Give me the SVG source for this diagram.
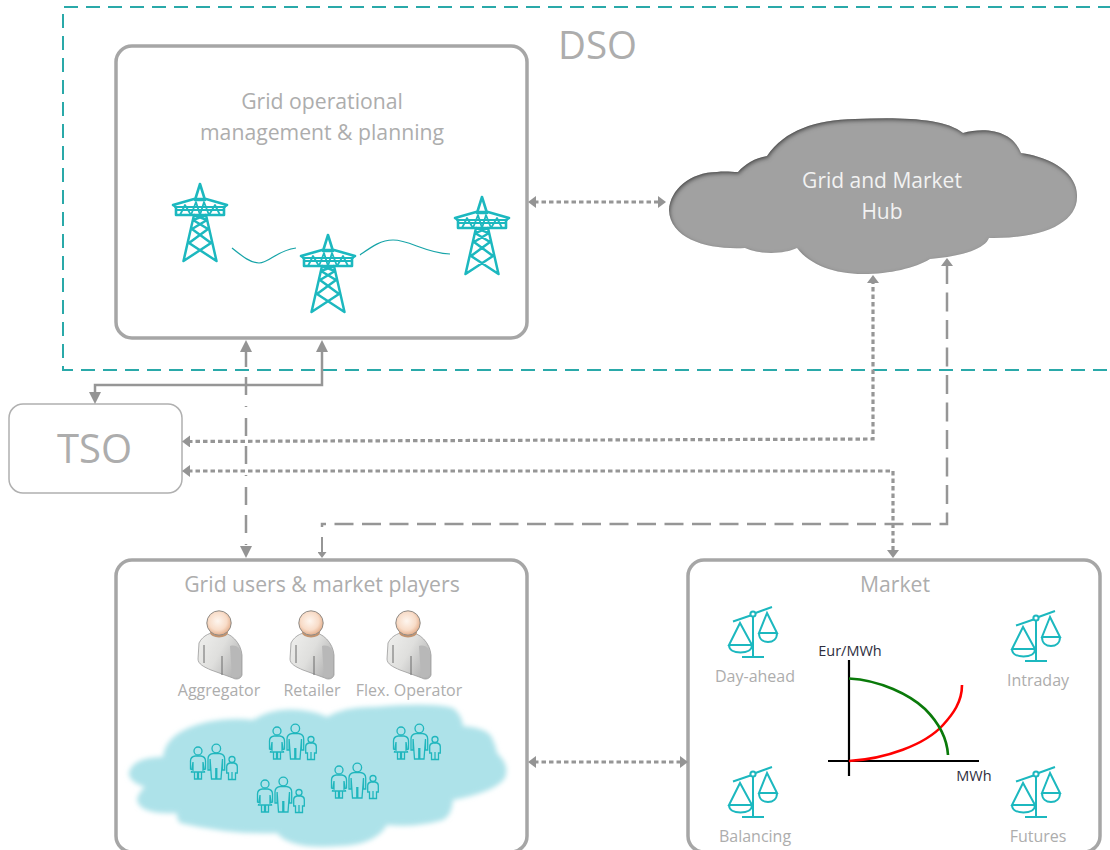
<svg xmlns="http://www.w3.org/2000/svg" xmlns:xlink="http://www.w3.org/1999/xlink" width="1110" height="850" viewBox="0 0 1110 850">
<style>
text{font-family:"Open Sans","Noto Sans","Liberation Sans",sans-serif;fill:#adadad;text-anchor:middle}
.box{fill:#fff;stroke:#a6a6a6;stroke-width:3.5}
.c{fill:none;stroke:#969696}
.dot{stroke-width:3.2;stroke-dasharray:4.5 3}
.lbl{font-size:16px}
.head{font-size:21.2px}
.twr{fill:none;stroke:#1cb8bf;stroke-linejoin:round;stroke-linecap:round}
.fam{fill:none;stroke:#1fb6bd;stroke-width:1.3}
.sc{fill:none;stroke:#1cb8bf;stroke-width:2}
.ax{fill:none;stroke:#000;stroke-width:2.2}
</style>
<defs>
<marker id="aL" viewBox="0 0 12 12" markerWidth="12" markerHeight="12" refX="6" refY="6" orient="auto-start-reverse" markerUnits="userSpaceOnUse"><path d="M0,0L12,6L0,12z" fill="#949494"/></marker>
<marker id="aS" viewBox="0 0 8 12" markerWidth="8" markerHeight="12" refX="2" refY="6" orient="auto-start-reverse" markerUnits="userSpaceOnUse"><path d="M0,0L8,6L0,12z" fill="#949494"/></marker>
<marker id="aT" viewBox="0 0 6 9" markerWidth="6" markerHeight="9" refX="1" refY="4.5" orient="auto-start-reverse" markerUnits="userSpaceOnUse"><path d="M0,0L6,4.5L0,9z" fill="#949494"/></marker>
<radialGradient id="face" cx="0.45" cy="0.42" r="0.62"><stop offset="0" stop-color="#fef6ef"/><stop offset="0.6" stop-color="#f8dcc8"/><stop offset="1" stop-color="#e0a680"/></radialGradient>
<linearGradient id="body" x1="0" y1="0" x2="1" y2="0.6"><stop offset="0" stop-color="#f0f0ee"/><stop offset="0.55" stop-color="#dfdfdd"/><stop offset="1" stop-color="#b4b4b4"/></linearGradient>
<filter id="inner" x="-5%" y="-5%" width="110%" height="110%">
<feGaussianBlur in="SourceAlpha" stdDeviation="2" result="b"/>
<feOffset in="b" dx="1" dy="2" result="o"/>
<feComposite in="SourceAlpha" in2="o" operator="out" result="edge"/>
<feFlood flood-color="#3a3a3a"/><feComposite in2="edge" operator="in" result="s"/>
<feMerge><feMergeNode in="SourceGraphic"/><feMergeNode in="s"/></feMerge>
</filter>
<filter id="soft" x="-5%" y="-10%" width="110%" height="120%"><feGaussianBlur stdDeviation="2.5"/></filter>
<filter id="sl" x="-20%" y="-10%" width="140%" height="120%"><feGaussianBlur stdDeviation="0.4"/></filter>
<symbol id="tower" overflow="visible">
<g class="twr" filter="url(#sl)">
<path d="M0,1L-5,17H5z" stroke-width="2.6"/>
<path d="M-27,22L-6,16H6L27,22L24,24V32H-24V24z" stroke-width="2.6"/>
<path d="M-25,24H25M-24,27H24M-20,32L-15,22L-9,32L-4,19L0,32L4,19L9,32L15,22L20,32" stroke-width="1.8"/>
<path d="M-6,32L-16.500,78L11,60L-8,46L7,37L-6,32M6,32L16.500,78L-11,60L8,46L-7,37L6,32" stroke-width="2.5"/>
</g>
</symbol>
<symbol id="person" overflow="visible">
<path d="M-20,20C-16,12 -8,9 0,9C12,9 22,20 23,32L23,52C22,56 17,57 14,55L-8,47C-15,44 -21,41 -21,36z" fill="url(#body)" stroke="#9a9a9a" stroke-width="0.8"/>
<path d="M11,23C18,21 22,26 22,32V50C22,54 17,55 13,54z" fill="#b8b8b8"/>
<path d="M-15,22V40M3,33V52" stroke="#6a6a6a" stroke-width="1" fill="none"/>
<ellipse cx="0" cy="9.500" rx="9" ry="5" fill="#c4946f"/>
<circle r="12.2" fill="url(#face)" stroke="#8f8c88" stroke-width="1"/>
</symbol>
<symbol id="family" overflow="visible">
<g class="fam">
<circle cx="0" cy="0" r="4"/>
<path d="M-3,5H3C6,5.500 7.500,7 7.500,10V18L5,19V11M-5,11V19L-7.500,18V10C-7.500,7 -6,5.500 -3,5M-5,11L-6.500,21H6.500L5,11M-3.500,21V28H-0.500V21M0.500,21V28H3.500V21"/>
<circle cx="18.300" cy="-2.500" r="4.300"/>
<path d="M15,2.500H21.500C25,3 26.700,5 26.700,8V19H24.500V8M12.100,8V19H10V8C10,5 11.500,3 15,2.500M12.100,8L13.500,28H17.800V17M18.800,17V28H23L24.500,8"/>
<circle cx="34" cy="8.500" r="3"/>
<path d="M32,12H36C38.500,12.500 39.300,14 39.300,15.500V22H37.500V28.500H30.500V22H28.700V15.500C28.700,14 29.500,12.500 32,12zM34,21V28.500"/>
</g>
</symbol>
<symbol id="scale" overflow="visible">
<g class="sc">
<path d="M-20,7.500L-2.500,1.500M2.500,-1L19,-7M0,2.500V43M-11,43H11"/>
<circle r="2.600"/>
<path d="M-13,9L-24,31H-1zM-24,31C-24,36 -19,38.500 -12.500,38.500C-6,38.500 -1,36 -1,31"/>
<path d="M14,-1L6,19H24zM6,19C6,25 10,28 15,28C20,28 24,25 24,19"/>
</g>
</symbol>
</defs>
<rect width="1110" height="850" fill="#fff"/>

<g id="dso">
<path d="M1112,7H63V370H1112" fill="none" stroke="#2aa9a9" stroke-width="2" stroke-dasharray="14 8"/>
<text x="597.500" y="59" font-size="38.500">DSO</text>
</g>

<g id="grid-ops">
<rect class="box" x="116" y="46" width="411" height="292" rx="16"/>
<text x="322" y="109" class="head">Grid operational</text>
<text x="322" y="140" class="head">management &amp; planning</text>
<use href="#tower" x="200" y="183"/>
<use href="#tower" x="328" y="234"/>
<use href="#tower" x="482" y="196"/>
<path d="M232,248C243,257 251,263 259,263C270,263 275,251 296,248" fill="none" stroke="#17a4a8" stroke-width="1.2"/>
<path d="M360,255C370,248 380,240 393,240C410,240 425,253 450,254" fill="none" stroke="#17a4a8" stroke-width="1.2"/>
</g>

<g id="hub">
<path filter="url(#inner)" fill="#a1a1a1" d="M669,210C670,190 690,172 717,172C725,171 732,172 738,172C745,164 755,158 767,156C785,130 815,120 855,119C900,117 945,118 963,133C985,127 1012,130 1021,153C1055,158 1078,175 1077,197C1077,222 1045,239 989,238C985,248 965,256 930,259C915,268 890,274 863,274C835,274 810,265 797,248C785,254 760,255 745,248C710,250 670,240 669,210z"/>
<text x="882" y="188" font-size="21" style="fill:#f2f2f2">Grid and Market</text>
<text x="882" y="219" font-size="21" style="fill:#f2f2f2">Hub</text>
</g>

<g id="tso">
<rect x="9" y="404" width="173" height="89" rx="14" fill="#fff" stroke="#b0b0b0" stroke-width="1.5"/>
<text x="94.500" y="463" font-size="40">TSO</text>
</g>

<g id="users">
<rect class="box" x="116" y="560" width="411" height="292" rx="16"/>
<text x="322" y="592" class="head">Grid users &amp; market players</text>
<use href="#person" x="219" y="623"/>
<use href="#person" x="311" y="623"/>
<use href="#person" x="408" y="623"/>
<text x="219" y="696" class="lbl">Aggregator</text>
<text x="312" y="696" class="lbl">Retailer</text>
<text x="409" y="696" class="lbl">Flex. Operator</text>
<path filter="url(#soft)" fill="#ade2e9" d="M129,772Q134,757 163,757Q165,732 207,722Q232,717 253,720Q272,707 300,710Q318,712 327,717Q345,706 375,707Q430,702 453,708Q462,715 463,726Q488,728 492,738Q496,746 497,753Q510,765 505,778Q495,792 453,800Q452,815 443,820Q415,828 387,825Q375,845 340,846Q290,850 277,833Q230,835 180,823Q176,818 177,813Q140,815 137,800Q138,793 145,787Q128,782 129,772z"/>
<use href="#family" x="198" y="751"/>
<use href="#family" x="277" y="731"/>
<use href="#family" x="265" y="784"/>
<use href="#family" x="339" y="770"/>
<use href="#family" x="401" y="731"/>
</g>

<g id="market">
<rect class="box" x="688" y="560" width="412" height="292" rx="16"/>
<text x="895" y="592" class="head">Market</text>
<use href="#scale" x="753" y="614"/>
<use href="#scale" x="1036" y="618"/>
<use href="#scale" x="753" y="774"/>
<use href="#scale" x="1036" y="774"/>
<text x="755" y="682" class="lbl">Day-ahead</text>
<text x="1038" y="686" class="lbl">Intraday</text>
<text x="755" y="842" class="lbl">Balancing</text>
<text x="1038" y="842" class="lbl">Futures</text>
<path class="ax" d="M849,660V776M828,761H979"/>
<path d="M849,761C885,759 925,745 943,725C953,714 962,702 962,685" fill="none" stroke="#ff0000" stroke-width="2.6"/>
<path d="M849,678.500C880,680 910,695 925,709C940,724 947,738 948,755" fill="none" stroke="#0a7a0a" stroke-width="2.6"/>
<text x="850" y="656" font-size="14.500" style="fill:#2e2e3e">Eur/MWh</text>
<text x="974" y="781" font-size="14.500" style="fill:#2e2e3e">MWh</text>
</g>

<g id="connectors">
<path class="c dot" d="M534,202H660" marker-start="url(#aS)" marker-end="url(#aS)"/>
<path class="c" stroke-width="2.500" stroke-dasharray="18 10 18 11 1 11" stroke-dashoffset="-3" d="M246,346V552" marker-start="url(#aL)" marker-end="url(#aL)"/>
<path class="c" stroke-width="2.500" d="M322,346V385H95V398" marker-start="url(#aL)" marker-end="url(#aL)"/>
<path class="c dot" d="M188,441.500L873,439V281" marker-start="url(#aS)" marker-end="url(#aS)"/>
<path class="c dot" d="M188,471H893V552" marker-start="url(#aS)" marker-end="url(#aS)"/>
<path class="c" stroke-width="2.500" stroke-dasharray="19 8.500" d="M947,265V524H322V527"/>
<path d="M947,258L953,266H941z" fill="#949494"/>
<path class="c" stroke-width="2" d="M322,537V553" marker-end="url(#aT)"/>
<path class="c dot" d="M534,762H682" marker-start="url(#aS)" marker-end="url(#aS)"/>
</g>
</svg>
